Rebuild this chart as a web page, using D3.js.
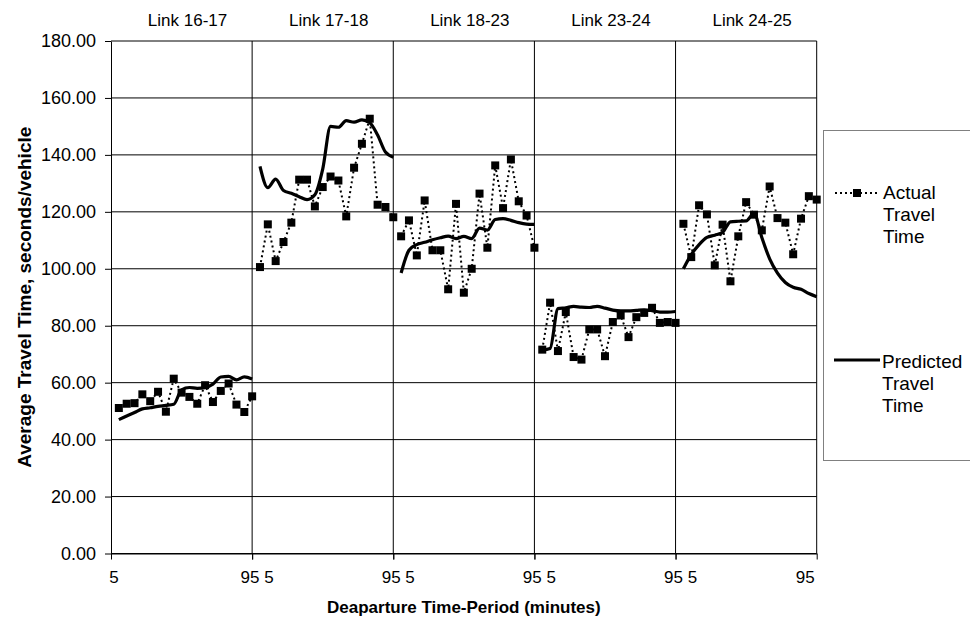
<!DOCTYPE html>
<html>
<head>
<meta charset="utf-8">
<script src="https://cdn.jsdelivr.net/npm/d3@7"></script>
<style>
body { margin: 0; background: #fff; }
text { font-family: Arial, "Liberation Sans", sans-serif; fill: #000; }
</style>
</head>
<body>
<div id="chart"></div>
<script>
// chart values
var links = ["Link 16-17", "Link 17-18", "Link 18-23", "Link 23-24", "Link 24-25"];
var minutes = [10, 15, 20, 25, 30, 35, 40, 45, 50, 55, 60, 65, 70, 75, 80, 85, 90, 95];
var yTicks = [0, 20, 40, 60, 80, 100, 120, 140, 160, 180];

var actual1617 = [51.1, 52.6, 52.8, 55.9, 53.5, 56.8, 49.8, 61.4, 56.5, 55.0, 52.6, 59.1, 53.2, 57.1, 59.7, 52.3, 49.7, 55.2];
var actual1718 = [100.6, 115.6, 102.7, 109.4, 116.2, 131.3, 131.3, 121.9, 128.7, 132.4, 131.0, 118.4, 135.5, 143.9, 152.7, 122.5, 121.7, 118.1];
var actual1823 = [111.4, 117.0, 104.7, 124.0, 106.5, 106.5, 92.8, 122.8, 91.6, 100.0, 126.4, 107.4, 136.3, 121.3, 138.4, 123.7, 118.7, 107.4];
var actual2324 = [71.6, 88.1, 71.1, 84.8, 69.0, 68.1, 78.7, 78.7, 69.3, 81.3, 83.6, 76.0, 83.0, 84.5, 86.3, 81.0, 81.3, 81.0];
var actual2425 = [115.8, 104.1, 122.3, 119.1, 101.2, 115.5, 95.6, 111.4, 123.4, 119.0, 113.5, 128.9, 117.8, 116.2, 105.1, 117.6, 125.5, 124.3];

var predicted1617 = [47.0, 48.3, 49.5, 50.8, 51.2, 51.7, 52.0, 52.4, 57.5, 58.3, 58.0, 58.3, 59.5, 62.0, 62.2, 61.0, 62.0, 61.3];
var predicted1718 = [136.0, 128.5, 131.5, 127.5, 126.5, 125.3, 124.3, 126.0, 135.0, 150.0, 149.7, 152.0, 151.5, 152.3, 151.3, 147.0, 141.0, 139.2];
var predicted1823 = [98.5, 106.5, 108.5, 109.3, 110.2, 110.9, 111.5, 110.6, 111.4, 110.6, 114.3, 113.6, 117.3, 117.6, 117.0, 116.2, 115.7, 115.6];
var predicted2324 = [71.5, 72.0, 86.0, 86.3, 86.8, 86.5, 86.4, 86.8, 86.2, 85.5, 85.2, 85.2, 85.4, 85.6, 85.3, 84.8, 84.8, 85.0];
var predicted2425 = [100.0, 105.0, 108.5, 111.0, 111.8, 112.8, 116.5, 116.7, 116.8, 119.5, 111.0, 103.5, 98.5, 95.2, 93.5, 92.8, 91.3, 90.2];

var actualSeries = [actual1617, actual1718, actual1823, actual2324, actual2425];
var predictedSeries = [predicted1617, predicted1718, predicted1823, predicted2324, predicted2425];

var width = 970;
var height = 622;
var plotLeft = 111;
var plotRight = 816.7;
var plotTop = 41;
var plotBottom = 553.5;
var panelW = (plotRight - plotLeft) / links.length;

var svg = d3.select("#chart")
    .append("svg")
    .attr("width", width)
    .attr("height", height);

var y = d3.scaleLinear().domain([0, 180]).range([plotBottom, plotTop]);

// horizontal gridlines
svg.append("g")
    .selectAll("line")
    .data(yTicks)
    .enter()
    .append("line")
    .attr("x1", plotLeft)
    .attr("x2", plotRight)
    .attr("y1", function(d) { return y(d); })
    .attr("y2", function(d) { return y(d); })
    .attr("stroke", "#000")
    .attr("stroke-width", 1);

var yAxis = svg.append("g")
    .attr("transform", `translate(${plotLeft},0)`)
    .call(d3.axisLeft(y).tickValues(yTicks).tickFormat(d3.format(".2f")).tickSize(6).tickSizeOuter(0).tickPadding(9));
yAxis.selectAll("text")
    .attr("font-size", 18)
    .attr("font-family", "Arial, 'Liberation Sans', sans-serif")
    .attr("fill", "#000");

var actualLine = d3.line();
var predictedLine = d3.line().curve(d3.curveMonotoneX);

links.forEach(function(name, i) {
    var x0 = plotLeft + i * panelW;
    var x = d3.scaleLinear().domain([5, 95]).range([x0, x0 + panelW]);
    var g = svg.append("g").attr("class", "panel");

    g.append("g")
        .attr("transform", `translate(0,${plotBottom})`)
        .call(d3.axisBottom(x).tickValues([5, 95]).tickSize(6).tickSizeOuter(0).tickFormat(""));

    g.append("line")
        .attr("x1", x(95)).attr("x2", x(95))
        .attr("y1", plotTop).attr("y2", plotBottom)
        .attr("stroke", "#000");

    // bottom labels: "5" at the start, "95 5" at each join, "95" at the end
    if (i === 0) {
        g.append("text")
            .attr("x", x(5) + 3)
            .attr("y", 583)
            .attr("text-anchor", "middle")
            .attr("font-size", 17)
            .text("5");
    }
    var last = i === links.length - 1;
    g.append("text")
        .attr("x", last ? x(95) - 2 : x(95) + 5)
        .attr("y", 583)
        .attr("text-anchor", last ? "end" : "middle")
        .attr("font-size", 17)
        .text(last ? "95" : "95 5");

    g.append("text")
        .attr("x", x0 + panelW / 2 + 6)
        .attr("y", 26)
        .attr("text-anchor", "middle")
        .attr("font-size", 17)
        .text(name);

    var pts = minutes.map(function(m, k) { return [x(m), y(actualSeries[i][k])]; });
    var pred = minutes.map(function(m, k) { return [x(m), y(predictedSeries[i][k])]; });

    g.append("path")
        .attr("d", actualLine(pts))
        .attr("fill", "none")
        .attr("stroke", "#000")
        .attr("stroke-width", 2)
        .attr("stroke-dasharray", "2,3");

    g.append("path")
        .attr("d", predictedLine(pred))
        .attr("fill", "none")
        .attr("stroke", "#000")
        .attr("stroke-width", 3.2)
        .attr("stroke-linejoin", "round");

    g.selectAll("rect")
        .data(pts)
        .enter()
        .append("rect")
        .attr("x", function(d) { return d[0] - 4; })
        .attr("y", function(d) { return d[1] - 4; })
        .attr("width", 8)
        .attr("height", 8)
        .attr("fill", "#000");
});

// axis titles
svg.append("text")
    .attr("transform", `translate(31,${(plotTop + plotBottom) / 2}) rotate(-90)`)
    .attr("text-anchor", "middle")
    .attr("font-size", 19)
    .attr("font-weight", "bold")
    .text("Average Travel Time, seconds/vehicle");

svg.append("text")
    .attr("x", (plotLeft + plotRight) / 2)
    .attr("y", 613)
    .attr("text-anchor", "middle")
    .attr("font-size", 17)
    .attr("font-weight", "bold")
    .text("Deaparture Time-Period (minutes)");

// legend
var legend = svg.append("g");
legend.append("rect")
    .attr("x", 823.5).attr("y", 130.5)
    .attr("width", 160).attr("height", 330)
    .attr("fill", "#fff")
    .attr("stroke", "#808080");

legend.append("line")
    .attr("x1", 835).attr("x2", 880)
    .attr("y1", 193).attr("y2", 193)
    .attr("stroke", "#000").attr("stroke-width", 2)
    .attr("stroke-dasharray", "2,3");
legend.append("rect")
    .attr("x", 853).attr("y", 189)
    .attr("width", 8).attr("height", 8)
    .attr("fill", "#000");
["Actual", "Travel", "Time"].forEach(function(t, k) {
    legend.append("text")
        .attr("x", 883).attr("y", 199 + k * 22)
        .attr("font-size", 19)
        .text(t);
});

legend.append("line")
    .attr("x1", 834).attr("x2", 880)
    .attr("y1", 360).attr("y2", 360)
    .attr("stroke", "#000").attr("stroke-width", 3);
["Predicted", "Travel", "Time"].forEach(function(t, k) {
    legend.append("text")
        .attr("x", 882).attr("y", 368 + k * 22)
        .attr("font-size", 19)
        .text(t);
});
</script>
</body>
</html>
